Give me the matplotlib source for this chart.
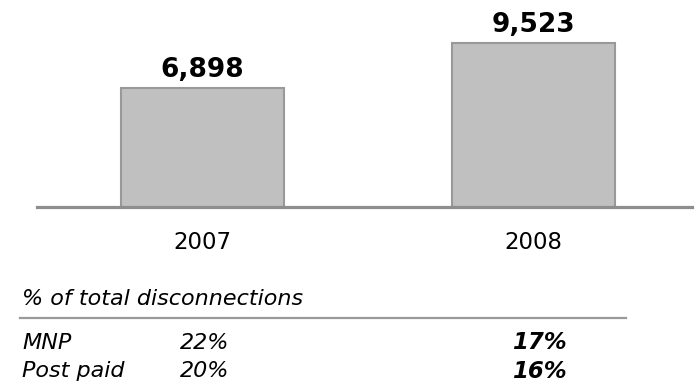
import matplotlib
matplotlib.use('Agg')
from matplotlib import pyplot as plt
from matplotlib.lines import Line2D

years = ['2007', '2008']
disconnections = [6898, 9523]
bar_labels = ['6,898', '9,523']

row_names = ['MNP', 'Post paid']
pct_2007 = ['22%', '20%']
pct_2008 = ['17%', '16%']

W, H = 700, 384
fig = plt.figure(figsize=(W / 100, H / 100), dpi=100)

def fx(px):
    return px / W

def fy(py):
    return 1 - py / H

# bar panel, baseline sits at y=207 px
ax = fig.add_axes([fx(37), fy(207), fx(692) - fx(37), fy(0) - fy(207)])
x = range(len(years))
ax.bar(x, disconnections, width=0.495, color='#c0c0c0',
       edgecolor='#999999', linewidth=1.5, zorder=2)
ax.set_xlim(-0.5, 1.479)
ax.set_ylim(0, 12000)

for i, (v, lab) in enumerate(zip(disconnections, bar_labels)):
    ax.annotate(lab, (i, v), xytext=(0, 8), textcoords='offset points',
                ha='center', va='baseline', fontsize=19, fontweight='bold',
                family='DejaVu Sans')

for s in ['top', 'right', 'left']:
    ax.spines[s].set_visible(False)
ax.spines['bottom'].set_color('#8e8e8e')
ax.spines['bottom'].set_linewidth(2.3)
ax.spines['bottom'].set_zorder(3)
ax.set_yticks([])
ax.set_xticks(list(x))
ax.set_xticklabels(years, fontsize=16.5)
ax.tick_params(axis='x', length=0, pad=17)

# small table underneath
fig.text(fx(22), fy(305), '% of total disconnections', fontsize=16,
         style='italic', va='baseline')
fig.add_artist(Line2D([fx(20), fx(626)], [fy(318), fy(318)],
                      color='#9a9a9a', linewidth=1.6))

row_base = [349, 377]
for name, a, b, yb in zip(row_names, pct_2007, pct_2008, row_base):
    fig.text(fx(22), fy(yb), name, fontsize=16, style='italic', va='baseline')
    fig.text(fx(180), fy(yb), a, fontsize=16, style='italic', va='baseline')
    fig.text(fx(567), fy(yb + 1 * (yb > 350)), b, fontsize=16.5, style='italic',
             fontweight='bold', ha='right', va='baseline')

fig.savefig('out.png', dpi=100)
